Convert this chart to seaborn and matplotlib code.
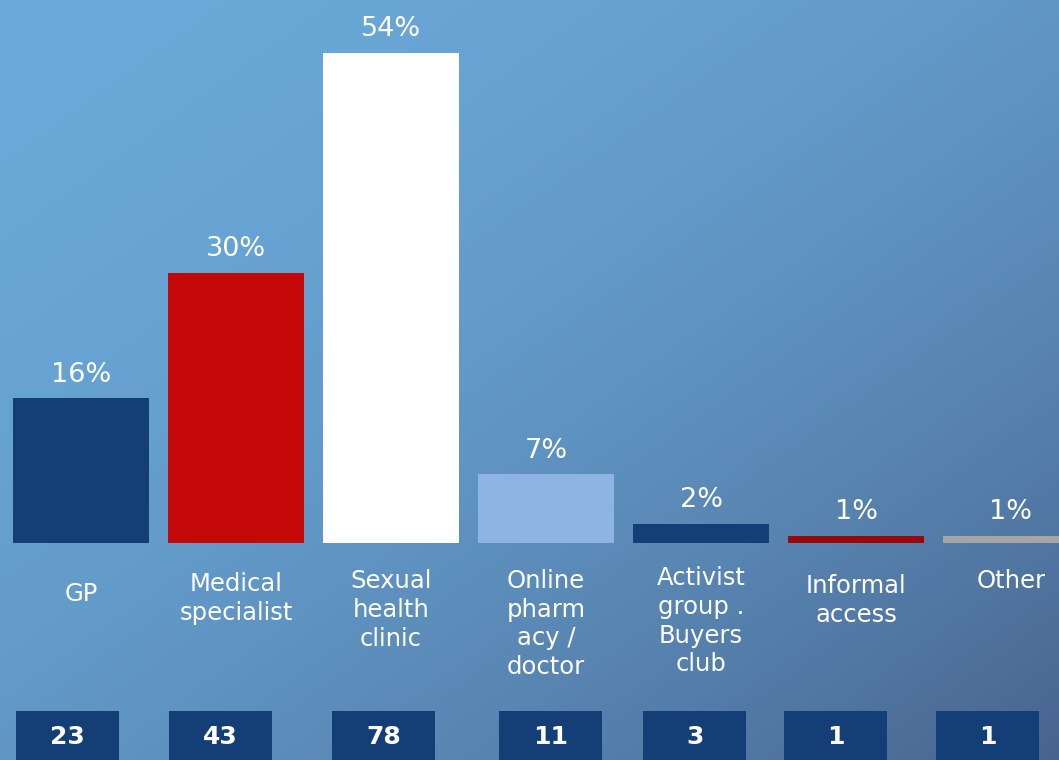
import matplotlib.pyplot as plt
import numpy as np
import pandas as pd
import seaborn as sns
from matplotlib.patches import Rectangle

categories = ["GP", "Medical specialist", "Sexual health clinic", "Online pharmacy / doctor",
              "Activist group . Buyers club", "Informal access", "Other"]
display_labels = ["GP", "Medical\nspecialist", "Sexual\nhealth\nclinic", "Online\npharm\nacy /\ndoctor",
                  "Activist\ngroup .\nBuyers\nclub", "Informal\naccess", "Other"]
shares = [16.0, 29.9, 54.2, 7.6, 2.1, 0.8, 0.8]
share_labels = ["16%", "30%", "54%", "7%", "2%", "1%", "1%"]
counts = [23, 43, 78, 11, 3, 1, 1]
bar_colors = ["#143f76", "#c40808", "#ffffff", "#8fb4e3", "#143f76", "#990808", "#a5a5a5"]

# layout tweaks (not data)
label_top_px = [582, 572, 569, 569, 566, 574, 569]
box_shift = [-0.09, -0.10, -0.05, 0.03, -0.04, -0.13, -0.15]

NAVY = "#143f76"
W, H = 1059, 760
PX_PER_UNIT = 9.04
BASE_PX = 543

df = pd.DataFrame({"category": categories, "share": shares})

sns.set_style("white")
plt.rcParams["font.family"] = ["DejaVu Sans"]

fig = plt.figure(figsize=(W / 100, H / 100), dpi=100)
ax = fig.add_axes([0, 0, 1, 1])

y_top = BASE_PX / PX_PER_UNIT
y_bot = -(H - BASE_PX) / PX_PER_UNIT
x_left = -81 / 155
x_right = (W - 81) / 155


def py_to_y(py):
    return (BASE_PX - py) / PX_PER_UNIT


# gradient background, darkening toward the bottom-right corner
gx, gy = np.meshgrid(np.linspace(0, 1, 300), np.linspace(0, 1, 220))
t = ((gx + gy) / 2) ** 1.9
c0 = np.array([106, 169, 217]) / 255
c1 = np.array([72, 100, 142]) / 255
img = c0 + t[..., None] * (c1 - c0)
ax.imshow(img, extent=[x_left, x_right, y_bot, y_top], aspect="auto", origin="upper", zorder=0)

sns.barplot(data=df, x="category", y="share", hue="category", palette=bar_colors,
            width=0.877, saturation=1, legend=False, linewidth=0, ax=ax, zorder=2)

for i, (v, lab) in enumerate(zip(shares, share_labels)):
    ax.annotate(lab, (i, v), xytext=(0, 12), textcoords="offset points",
                ha="center", va="baseline", color="white", fontsize=19.5, zorder=3)

for i, lab in enumerate(display_labels):
    ax.text(i, py_to_y(label_top_px[i]), lab, ha="center", va="top", color="white",
            fontsize=17.5, linespacing=1.25, zorder=3)

box_w = 103 / 155
for i, n in enumerate(counts):
    cx = i + box_shift[i]
    ax.add_patch(Rectangle((cx - box_w / 2, y_bot - 2), box_w, py_to_y(711) - y_bot + 2,
                           facecolor=NAVY, edgecolor="none", zorder=3))
    ax.text(cx, py_to_y(737), str(n), ha="center", va="center", color="white",
            fontsize=18, fontweight="bold", zorder=4)

ax.set_xlim(x_left, x_right)
ax.set_ylim(y_bot, y_top)
ax.axis("off")

fig.savefig("out.png", dpi=100)
